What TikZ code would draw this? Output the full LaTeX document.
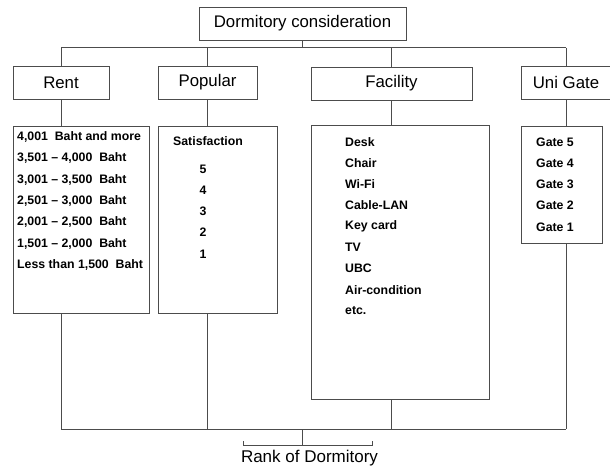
\documentclass[tikz,border=0pt]{standalone}
\usepackage{fontspec}
\setmainfont{Liberation Sans}

\begin{document}
\begin{tikzpicture}[x=1pt,y=-1pt,
  line/.style={draw=black!70,line width=.9pt},
  headbox/.style={line,rectangle,minimum height=33pt,inner sep=0pt,font=\fontsize{16.8}{18}\selectfont},
  listbox/.style={line,rectangle,inner sep=0pt,anchor=north west},
  item/.style={anchor=west,inner sep=0pt,font=\bfseries\fontsize{12.3}{14}\selectfont}]
%\draw[help lines] (0,0) grid[step=50] (610,469);
\useasboundingbox (0,0) rectangle (610,469);
\clip (0,0) rectangle (610,469);

 % top level
 \node[headbox,minimum width=207pt] (top) at (302.5,23.5) {Dormitory consideration};

 % criteria
 \node[headbox,minimum width=96pt]  (rent)     at (61,82.5)    {Rent};
 \node[headbox,minimum width=99pt]  (popular)  at (207.5,82.5) {Popular};
 \node[headbox,minimum width=161pt] (facility) at (391.5,83.5) {Facility};
 \node[headbox,minimum width=90pt]  (unigate)  at (566,82.5)   {Uni Gate};

 % lists
 \node[listbox,minimum width=136pt,minimum height=187pt] (rentlist) at (13,126)  {};
 \node[listbox,minimum width=119pt,minimum height=187pt] (poplist)  at (158,126) {};
 \node[listbox,minimum width=178pt,minimum height=274pt] (faclist)  at (311,125) {};
 \node[listbox,minimum width=81pt,minimum height=117pt]  (gatelist) at (521,126) {};

 \foreach \t [count=\i from 0] in {{4,001\ \ Baht and more},
   {3,501 – 4,000\ \ Baht},{3,001 – 3,500\ \ Baht},{2,501 – 3,000\ \ Baht},
   {2,001 – 2,500\ \ Baht},{1,501 – 2,000\ \ Baht},{Less than 1,500\ \ Baht}}
   \node[item] (rent\i) at (17,137+21.3*\i) {\t};

 \node[item] (sat) at (173,141) {Satisfaction};
 \foreach \t [count=\i from 0] in {5,4,3,2,1}
   \node[item,anchor=center] (pop\i) at (203,169+21.2*\i) {\t};

 \foreach \t [count=\i from 0] in {Desk,Chair,Wi-Fi,Cable-LAN,Key card,TV,UBC,Air-condition,etc.}
   \node[item] (fac\i) at (345,142+21.1*\i) {\t};

 \foreach \t [count=\i from 0] in {Gate 5,Gate 4,Gate 3,Gate 2,Gate 1}
   \node[item] (gate\i) at (536,142+21.2*\i) {\t};

 % result
 \node[font=\fontsize{17}{19}\selectfont] (rank) at (309.5,458) {Rank of Dormitory};
 \coordinate (split) at (top.south |- 0,47.5);
 \coordinate (join)  at (top.south |- 0,429);
 \coordinate (brl)   at (243,445);
 \coordinate (brr)   at (372,445);

 % connectors
 \draw[line] (top.south) -- (split);
 \draw[line] (split -| rent.north) -- (split -| unigate.north);
 \foreach \h/\l in {rent/rentlist,popular/poplist,facility/faclist,unigate/gatelist}{
   \draw[line] (split -| \h.north) -- (\h.north);
   \draw[line] (\h.south) -- (\h.south |- \l.north);
   \draw[line] (\h.south |- \l.south) -- (\h.south |- join);
 }
 \draw[line] (join -| rent.south) -- (join -| unigate.south);
 \draw[line] (join) -- (join |- brl);
 \draw[line] ([yshift=4pt]brl) -- (brl) -- (brr) -- ([yshift=4pt]brr);

\end{tikzpicture}
\end{document}
